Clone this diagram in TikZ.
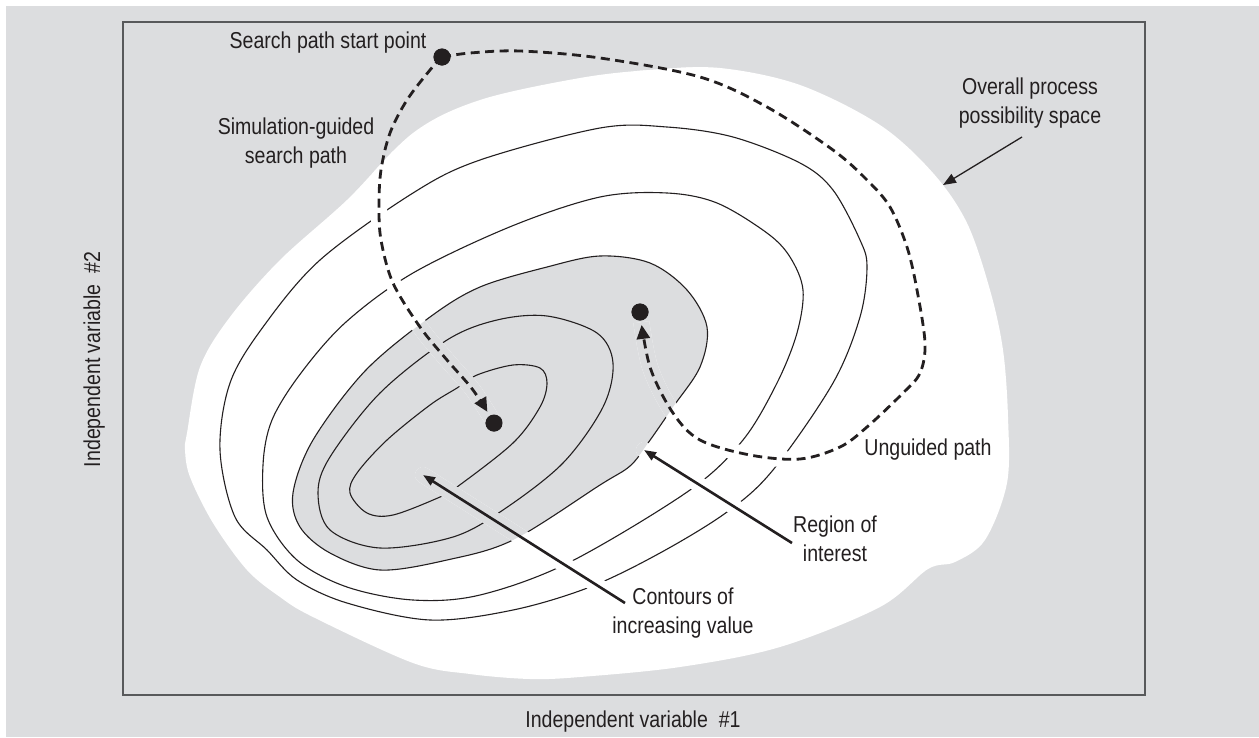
\documentclass[tikz,border=0pt]{standalone}
\usepackage{fontspec}
\setmainfont{Liberation Sans}[FakeStretch=0.85]
\usetikzlibrary{arrows.meta}
\definecolor{bggray}{RGB}{220,221,223}
\definecolor{ink}{RGB}{35,31,32}
\definecolor{framecol}{RGB}{88,89,91}
\begin{document}
\begin{tikzpicture}[x=1pt,y=-1pt,
  contour/.style={draw=ink, line width=1.1pt},
  dashpath/.style={draw=ink, line width=2.8pt, dash pattern=on 9pt off 5.5pt, -{Triangle[length=14pt,width=13pt]}},
  solidarrow/.style={draw=ink, line width=2.6pt, -{Triangle[length=12pt,width=9pt]}},
  thinarrow/.style={draw=ink, line width=1.3pt, -{Triangle[length=13pt,width=10pt]}},
  blackdot/.style={circle, fill=ink, inner sep=0pt, minimum size=17pt},
  lbl/.style={text=ink, font=\fontsize{23}{29}\selectfont, inner sep=0pt, align=center},
  halo/.style={line width=16pt, line cap=round}
]
\def\blobpath{plot[smooth cycle, tension=0.55] coordinates {(480,100) (580,78) (650,70) (720,68) (800,85) (880,125) (933,173) (967,223) (990,290) (1003,350) (1008,417) (1007,483) (985,540) (955,562) (928,569) (880,607) (780,647) (680,667) (580,677) (530,679) (470,674) (413,663) (313,617) (280,597) (247,570) (213,523) (190,477) (185,450) (187,433) (200,367) (230,317) (280,260) (347,200) (413,133)}}
\def\regionpath{plot[smooth cycle, tension=0.55] coordinates {(293,493) (300,527) (330,553) (380,570) (447,560) (513,540) (600,485) (630,466) (648,443) (673,407) (700,367) (707,327) (687,290) (650,263) (600,256) (547,267) (480,287) (430,317) (365,371) (313,440)}}
\def\guidedpath{plot[smooth, tension=0.55] coordinates {(start.center) (430,70) (407,100) (390,133) (381,170) (379,205) (381,240) (393,283) (420,327) (447,360) (473,390) (gdot.center)}}
\def\unguidedpath{plot[smooth, tension=0.55] coordinates {(start.center) (470,53) (520,51) (600,58) (700,77) (767,107) (833,150) (867,180) (890,207) (907,247) (917,290) (925,343) (920,373) (903,393) (867,427) (840,447) (800,459) (750,455) (700,440) (673,413) (650,367) (udot.center)}}

% page and background
\fill[white] (0,0) rectangle (1259,737);
\fill[bggray] (6,6) rectangle (1259,737);
\useasboundingbox (0,0) rectangle (1259,737);
\draw[framecol, line width=1.6pt] (123,22) rectangle (1145,695);

% possibility space and region of interest
\fill[white] \blobpath;
\fill[bggray] \regionpath;

% contours
\draw[contour] plot[smooth cycle, tension=0.55] coordinates {(350,493) (367,513) (393,515) (440,497) (457,487) (513,443) (540,407) (547,383) (540,368) (513,365) (477,375) (457,388) (430,405) (387,440) (357,473)};
\draw[contour] plot[smooth cycle, tension=0.55] coordinates {(318,493) (330,530) (380,548) (453,537) (503,510) (563,463) (603,407) (613,363) (597,333) (547,316) (497,320) (447,340) (380,393) (330,457)};
\draw[contour] \regionpath;
\draw[contour] plot[smooth cycle, tension=0.55] coordinates {(263,465) (267,517) (297,560) (347,587) (413,600) (480,595) (570,562) (690,490) (743,440) (777,383) (797,333) (803,290) (790,257) (767,233) (717,203) (667,193) (600,197) (512,226) (413,273) (346,322) (301,373) (272,420)};
\draw[contour] plot[smooth cycle, tension=0.55] coordinates {(220,450) (235,517) (267,550) (297,580) (347,603) (430,620) (513,610) (590,587) (660,553) (727,512) (773,470) (833,383) (860,317) (867,267) (860,240) (833,190) (800,163) (733,137) (667,127) (600,128) (480,160) (413,193) (320,260) (263,327) (230,383)};

% nodes
\node[blackdot] (start) at (442,57) {};
\node[blackdot] (gdot) at (494,423) {};
\node[blackdot] (udot) at (640,312) {};
\coordinate (ctail) at (625,603);
\coordinate (ctip) at (423,475);
\coordinate (rtail) at (792,543);
\coordinate (rtip) at (644,450);
\coordinate (otail) at (1022,137);
\coordinate (otip) at (943,185);

% halos (gaps in contour lines at crossings)
\begin{scope}
  \clip \blobpath;
  \draw[halo, white, shorten >=13pt] \guidedpath;
  \draw[halo, white, shorten >=13pt] \unguidedpath;
  \draw[halo, white] (ctail) -- (ctip);
  \draw[halo, white] (rtail) -- (rtip);
\end{scope}
\begin{scope}
  \clip \regionpath;
  \draw[halo, bggray, shorten >=13pt] \guidedpath;
  \draw[halo, bggray, shorten >=13pt] \unguidedpath;
  \draw[halo, bggray] (ctail) -- (ctip);
  \draw[halo, bggray] (rtail) -- (rtip);
\end{scope}

% paths and arrows
\draw[dashpath, shorten >=13pt] \guidedpath;
\draw[dashpath, shorten >=13pt] \unguidedpath;
\draw[solidarrow] (ctail) -- (ctip);
\draw[solidarrow] (rtail) -- (rtip);
\draw[thinarrow] (otail) -- (otip);

% redraw dots on top
\node[blackdot] at (start.center) {};
\node[blackdot] at (gdot.center) {};
\node[blackdot] at (udot.center) {};

% labels
\node[lbl, anchor=base] (startlbl) at (328,48) {Search path start point};
\node[lbl] (simlbl) at (296,143) {Simulation-guided\\search path};
\node[lbl] (overlbl) at (1030,103.5) {Overall process\\possibility space};
\node[lbl, anchor=base] (unglbl) at (928,455) {Unguided path};
\node[lbl] (reglbl) at (835,539) {Region of\\interest};
\node[lbl] (contlbl) at (683,613.5) {Contours of\\increasing value};
\node[lbl, anchor=base] (xlbl) at (633,727) {Independent variable\ \ \#1};
\node[lbl, rotate=90, anchor=base] (ylbl) at (100,359.5) {Independent variable\ \ \#2};
\end{tikzpicture}
\end{document}
